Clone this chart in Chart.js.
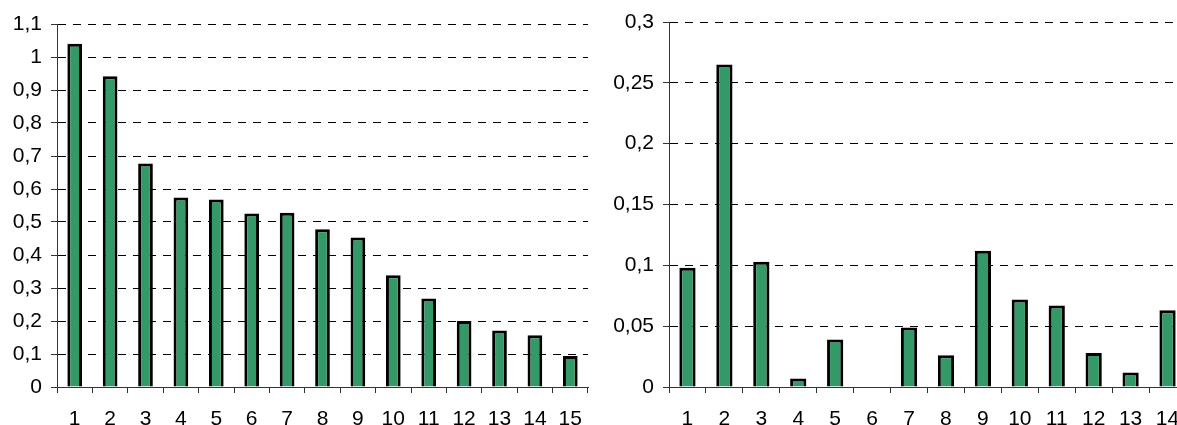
<!DOCTYPE html>
<html>
<head>
<meta charset="utf-8">
<script src="https://cdn.jsdelivr.net/npm/chart.js@4"></script>
<style>
  html, body { margin: 0; padding: 0; background: #fff; overflow: hidden; width: 1177px; height: 425px; }
  .box { position: absolute; top: 0; }
  #b1 { left: 0; width: 600px; height: 425px; }
  #b2 { left: 590px; width: 606px; height: 425px; }
</style>
</head>
<body>
<div class="box" id="b1"><canvas id="c1"></canvas></div>
<div class="box" id="b2"><canvas id="c2"></canvas></div>
<script>
const leftCategories = ['1','2','3','4','5','6','7','8','9','10','11','12','13','14','15'];
const leftValues = [1.04, 0.942, 0.677, 0.574, 0.568, 0.526, 0.528, 0.478, 0.453, 0.339, 0.268, 0.2, 0.171, 0.157, 0.094];
const leftTicks = { min: 0, max: 1.1, step: 0.1 };

const rightCategories = ['1','2','3','4','5','6','7','8','9','10','11','12','13','14'];
const rightValues = [0.098, 0.265, 0.103, 0.007, 0.039, 0, 0.049, 0.026, 0.112, 0.072, 0.067, 0.028, 0.012, 0.063];
const rightTicks = { min: 0, max: 0.3, step: 0.05 };

Chart.defaults.font.family = 'Liberation Sans';
Chart.defaults.font.size = 21;
const FONT = { family: 'Liberation Sans', size: 21 };

function makeChart(id, cats, vals, tk, opts) {
  return new Chart(document.getElementById(id), {
    type: 'bar',
    data: {
      labels: cats,
      datasets: [{
        data: vals,
        backgroundColor: '#339966',
        borderColor: '#000000',
        borderWidth: (c) => (c.raw === 0 ? 0 : 3),
        borderSkipped: 'start',
        barPercentage: opts.barPct,
        categoryPercentage: 1.0
      }]
    },
    options: {
      responsive: true,
      maintainAspectRatio: false,
      animation: false,
      events: [],
      layout: { padding: { left: 0, right: opts.padRight, top: opts.padTop, bottom: 0 } },
      plugins: { legend: { display: false }, tooltip: { enabled: false } },
      scales: {
        x: {
          offset: true,
          grid: { display: true, drawOnChartArea: false, drawTicks: true, tickLength: 6, offset: true, color: '#333', tickColor: '#333', lineWidth: 1 },
          border: { display: true, color: '#333', width: 1 },
          ticks: { color: '#000', font: FONT, padding: opts.xPad, maxRotation: 0, autoSkip: false },
          afterFit: (s) => { s.height = opts.xHeight; }
        },
        y: {
          min: tk.min, max: tk.max,
          grid: { display: true, drawOnChartArea: true, drawTicks: true, tickLength: 6, color: '#000', tickColor: '#333', lineWidth: 1 },
          border: { display: true, color: '#333', width: 1, dash: [8, 7] },
          ticks: {
            stepSize: tk.step, color: '#000', font: FONT, padding: 9, autoSkip: false,
            callback: (v) => String(Math.round(v * 100) / 100).replace('.', ',')
          },
          afterFit: (s) => { s.width = opts.yWidth; }
        }
      }
    }
  });
}

makeChart('c1', leftCategories, leftValues, leftTicks, { barPct: 0.415, padRight: 12, padTop: 24, xHeight: 38, yWidth: 57, xPad: 14 });
makeChart('c2', rightCategories, rightValues, rightTicks, { barPct: 0.44, padRight: 10, padTop: 22, xHeight: 38, yWidth: 79, xPad: 14 });
</script>
</body>
</html>
